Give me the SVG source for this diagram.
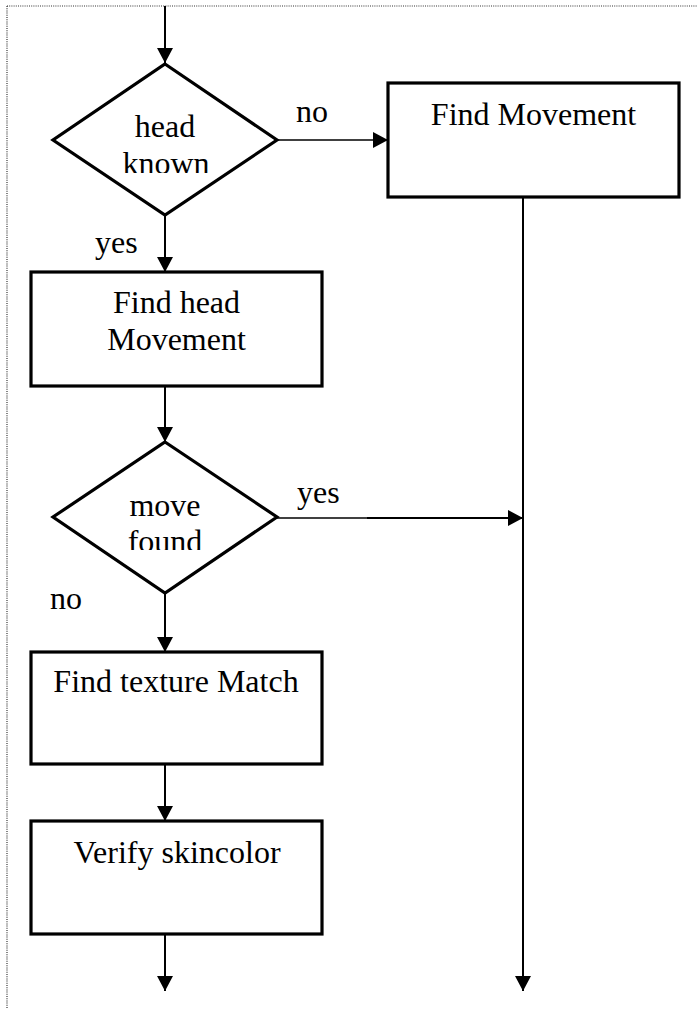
<svg xmlns="http://www.w3.org/2000/svg" width="697" height="1011" viewBox="0 0 697 1011">
<style>
  .box { fill: #fff; stroke: #000; stroke-width: 3.2; }
  .dia { fill: #fff; stroke: #000; stroke-width: 3.2; stroke-linejoin: miter; }
  .t { font-family: "Liberation Serif", "Times New Roman", serif; font-size: 32px; fill: #000; text-anchor: middle; }
  .lbl { font-family: "Liberation Serif", "Times New Roman", serif; font-size: 32px; fill: #000; }
  .c { stroke: #000; stroke-width: 2; fill: none; }
  .thin { stroke: #000; stroke-width: 1.3; fill: none; }
  .frame { stroke: #333; stroke-width: 1.2; stroke-dasharray: 1 1.2; fill: none; }
</style>
<defs>
  <marker id="ah" markerUnits="userSpaceOnUse" markerWidth="16" markerHeight="16" refX="15" refY="8" orient="auto">
    <path d="M0,0 L15,8 L0,16 z" fill="#000"/>
  </marker>
  <clipPath id="clipKnown"><rect x="100" y="100" width="130" height="73"/></clipPath>
  <clipPath id="clipFound"><rect x="100" y="480" width="130" height="70"/></clipPath>
</defs>
<rect width="697" height="1011" fill="#fff"/>
<g id="frame">
  <line class="frame" x1="7" y1="6" x2="697" y2="6"/>
  <line class="frame" x1="7" y1="6" x2="7" y2="1009"/>
</g>
<g id="connectors">
  <line class="c" x1="165" y1="6" x2="165" y2="63" marker-end="url(#ah)"/>
  <line class="thin" x1="277" y1="140" x2="388" y2="140" marker-end="url(#ah)"/>
  <line class="c" x1="165" y1="215" x2="165" y2="272" marker-end="url(#ah)"/>
  <line class="c" x1="523" y1="197" x2="523" y2="991" marker-end="url(#ah)"/>
  <line class="c" x1="165" y1="386" x2="165" y2="442" marker-end="url(#ah)"/>
  <line class="thin" x1="277" y1="518" x2="367" y2="518"/>
  <line class="c" x1="367" y1="518" x2="523" y2="518" marker-end="url(#ah)"/>
  <line class="c" x1="165" y1="593" x2="165" y2="652" marker-end="url(#ah)"/>
  <line class="c" x1="165" y1="764" x2="165" y2="821" marker-end="url(#ah)"/>
  <line class="c" x1="165" y1="934" x2="165" y2="991" marker-end="url(#ah)"/>
  <text class="lbl" x="296" y="122">no</text>
  <text class="lbl" x="95" y="253">yes</text>
  <text class="lbl" x="297" y="503">yes</text>
  <text class="lbl" x="50" y="609">no</text>
</g>
<g id="head-known">
  <polygon class="dia" points="165,64 277,140 165,215 53,140"/>
  <text class="t" x="165" y="137">head</text>
  <text class="t" x="166" y="174" clip-path="url(#clipKnown)">known</text>
</g>
<g id="find-movement">
  <rect class="box" x="388" y="83" width="291" height="114"/>
  <text class="t" x="533.5" y="125">Find Movement</text>
</g>
<g id="find-head-movement">
  <rect class="box" x="31" y="272" width="291" height="114"/>
  <text class="t" x="176.5" y="313">Find head</text>
  <text class="t" x="176.5" y="350">Movement</text>
</g>
<g id="move-found">
  <polygon class="dia" points="165,442 277,517 165,593 53,517"/>
  <text class="t" x="165" y="516">move</text>
  <text class="t" x="165" y="552" clip-path="url(#clipFound)">found</text>
</g>
<g id="find-texture-match">
  <rect class="box" x="31" y="652" width="291" height="112"/>
  <text class="t" x="176" y="692">Find texture Match</text>
</g>
<g id="verify-skincolor">
  <rect class="box" x="31" y="821" width="291" height="113"/>
  <text class="t" x="177" y="863">Verify skincolor</text>
</g>
</svg>
